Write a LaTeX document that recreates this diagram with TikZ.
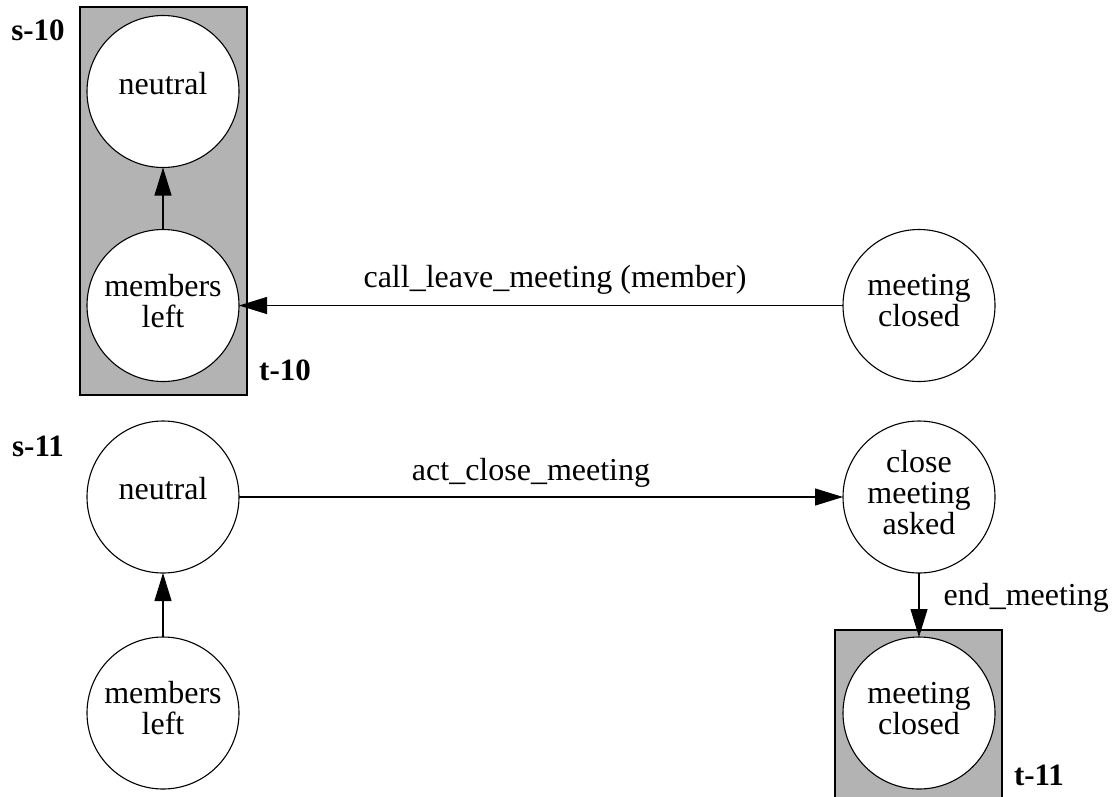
\documentclass[tikz,border=0pt]{standalone}
\usepackage{fontspec}
\setmainfont{Liberation Serif}
\usetikzlibrary{arrows.meta}
\definecolor{clustergray}{HTML}{B3B3B3}

\begin{document}
\begin{tikzpicture}[x=1pt, y=-1pt, node distance=214pt,
  state/.style={circle, draw, fill=white, line width=1.1pt, minimum size=152pt, inner sep=0pt, outer sep=0pt, align=center, text depth=10pt, font=\fontsize{32}{31}\selectfont},
  single/.style={text depth=17pt},
  cluster/.style={draw, line width=1.1pt, fill=clustergray},
  trans/.style={-{Triangle[length=28pt, width=17pt]}, line width=1.1pt},
  lbl/.style={font=\fontsize{32}{31}\selectfont, inner sep=0pt},
  tag/.style={font=\fontsize{31}{31}\selectfont\bfseries, inner sep=0pt}]
  \useasboundingbox (0,0) rectangle (1113,796);

  % clusters
  \filldraw[cluster] (80,7) rectangle (247,395);
  \filldraw[cluster] (835,630) rectangle (1002,820);

  % s-10 / t-10
  \node[state, single] (neutralA) at (163,91.5) {neutral};
  \node[state, below of=neutralA] (membersA) {members\\left};
  \node[state, right of=membersA, node distance=756pt] (closedA) {meeting\\closed};

  % s-11 / t-11
  \node[state, single] (neutralB) at (163,497) {neutral};
  \node[state, below of=neutralB, node distance=216pt] (membersB) {members\\left};
  \node[state, right of=neutralB, node distance=756pt] (askedB) {close\\meeting\\asked};
  \node[state, below of=askedB, node distance=216pt] (closedB) {meeting\\closed};

  \node[tag] (sA) at (38,30) {s-10};
  \node[tag] (tA) at (285,370) {t-10};
  \node[tag] (sB) at (38,446) {s-11};
  \node[tag] (tB) at (1039,775) {t-11};

  \draw[trans] (membersA) -- (neutralA);
  \draw[trans] (closedA) -- node[lbl, anchor=base, yshift=18pt, xshift=14pt] (callA) {call\_leave\_meeting (member)} (membersA);
  \draw[trans] (membersB) -- (neutralB);
  \draw[trans] (neutralB) -- node[lbl, anchor=base, yshift=17pt, xshift=-10pt] (actB) {act\_close\_meeting} (askedB);
  \draw[trans] (askedB) -- node[lbl, anchor=base west, xshift=24pt] (endB) {end\_meeting} (closedB);
\end{tikzpicture}
\end{document}
